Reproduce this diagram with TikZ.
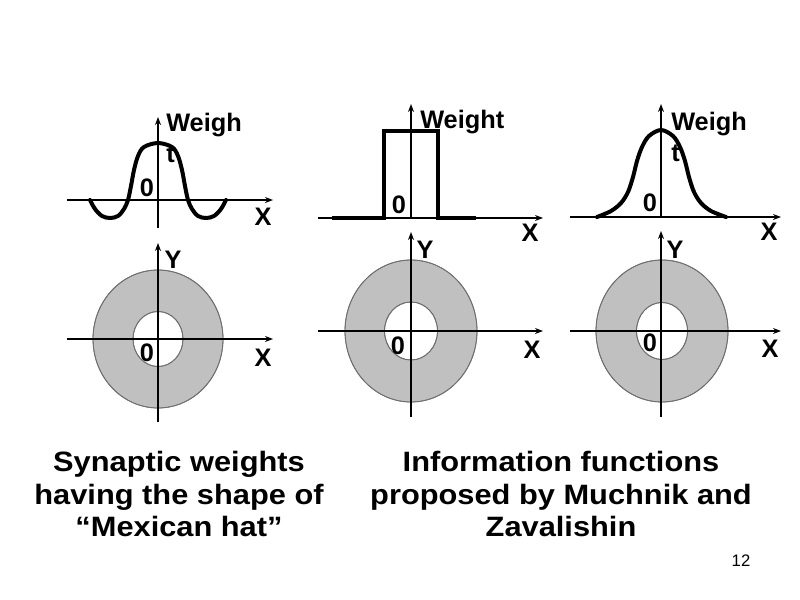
\documentclass[tikz,border=0pt]{standalone}
\usepackage{fontspec}
\setmainfont{Liberation Sans}
\usetikzlibrary{arrows.meta}
\definecolor{ringgray}{RGB}{192,192,192}
\definecolor{ringedge}{RGB}{110,110,110}
\begin{document}
\begin{tikzpicture}[x=0.75pt,y=-0.75pt,
  axis/.style={line width=1.6pt,-{Stealth[length=6pt,width=4.5pt]}},
  thinaxis/.style={line width=1pt,-{Stealth[length=6pt,width=4.5pt]}},
  curve/.style={line width=3pt,line join=round,line cap=round},
  ring/.style={fill=ringgray,draw=ringedge,line width=0.6pt,even odd rule},
  lbl/.style={font=\bfseries\fontsize{19}{23}\selectfont,inner sep=0pt},
  caption/.style={font=\bfseries\fontsize{21}{24.5}\selectfont,align=center,xscale=1.1,inner sep=0pt}]
\useasboundingbox[fill=white] (0,0) rectangle (800,600);

% ---------- Panel 1 top: Mexican hat ----------
\coordinate (p1xl) at (67,200);  \coordinate (p1xr) at (273,200);
\coordinate (p1yb) at (158,228); \coordinate (p1yt) at (158,117);
\draw[curve] plot[smooth,tension=0.55] coordinates {(90,200) (95,209) (102,216) (110,218) (118,216) (124,209) (128,200) (131,186) (134,170) (138,156) (144,147) (158,143) (172,147) (178,156) (182,170) (185,186) (188,200) (192,209) (198,216) (206,218) (214,216) (221,209) (226,200)};
\draw[axis] (p1xl) -- (p1xr);
\draw[axis] (p1yb) -- (p1yt);
\node[lbl,anchor=north west,align=left] (w1) at (166,113) {Weigh\\t};
\node[lbl] (z1) at (147,188) {0};
\node[lbl] (x1) at (263,217) {X};

% ---------- Panel 1 bottom ----------
\coordinate (c1) at (158,339);
\fill[ring] (c1) ellipse [x radius=65,y radius=69] (c1) ellipse [x radius=25,y radius=27.5];
\draw[ringedge,line width=0.6pt] (c1) ellipse [x radius=65,y radius=69];
\draw[ringedge,line width=0.6pt] (c1) ellipse [x radius=25,y radius=27.5];
\coordinate (q1xl) at (67,339);  \coordinate (q1xr) at (273,339);
\coordinate (q1yb) at (158,422); \coordinate (q1yt) at (158,243);
\draw[axis] (q1xl) -- (q1xr);
\draw[axis] (q1yb) -- (q1yt);
\node[lbl] (y1) at (173,260) {Y};
\node[lbl] (z1b) at (147,353) {0};
\node[lbl] (x1b) at (263,358) {X};

% ---------- Panel 2 top: rectangle ----------
\coordinate (p2xl) at (318,218); \coordinate (p2xr) at (543,218);
\coordinate (p2yb) at (411,218); \coordinate (p2yt) at (411,104);
\draw[thinaxis] (p2xl) -- (p2xr);
\draw[thinaxis] (p2yb) -- (p2yt);
\draw[curve,line cap=butt,line join=miter] (332,218) -- (384,218) -- (384,131) -- (438,131) -- (438,218) -- (476,218);
\node[lbl,anchor=base west] (w2) at (420,128) {Weight};
\node[lbl] (z2) at (399,205) {0};
\node[lbl] (x2) at (530,233) {X};

% ---------- Panel 2 bottom ----------
\coordinate (c2) at (411,331);
\fill[ring] (c2) ellipse [x radius=66,y radius=71] (c2) ellipse [x radius=26.5,y radius=29];
\draw[ringedge,line width=0.6pt] (c2) ellipse [x radius=66,y radius=71];
\draw[ringedge,line width=0.6pt] (c2) ellipse [x radius=26.5,y radius=29];
\coordinate (q2xl) at (318,331); \coordinate (q2xr) at (543,331);
\coordinate (q2yb) at (411,417); \coordinate (q2yt) at (411,232);
\draw[axis] (q2xl) -- (q2xr);
\draw[axis] (q2yb) -- (q2yt);
\node[lbl] (y2) at (425,250) {Y};
\node[lbl] (z2b) at (398,346) {0};
\node[lbl] (x2b) at (532,350) {X};

% ---------- Panel 3 top: bell ----------
\coordinate (p3xl) at (570,217); \coordinate (p3xr) at (781,217);
\coordinate (p3yb) at (661,217); \coordinate (p3yt) at (661,104);
\draw[curve] plot[smooth,tension=0.55] coordinates {(597,217) (611,211) (621,203) (628,192) (633,177) (637,161) (642,147) (649,136) (661,130) (673,136) (680,147) (685,161) (689,177) (694,192) (701,203) (711,211) (726,217)};
\draw[axis] (p3xl) -- (p3xr);
\draw[axis] (p3yb) -- (p3yt);
\node[lbl,anchor=north west,align=left] (w3) at (671,112) {Weigh\\t};
\node[lbl] (z3) at (650,203) {0};
\node[lbl] (x3) at (769,232) {X};

% ---------- Panel 3 bottom ----------
\coordinate (c3) at (662,331);
\fill[ring] (c3) ellipse [x radius=66,y radius=71] (c3) ellipse [x radius=25.5,y radius=28.5];
\draw[ringedge,line width=0.6pt] (c3) ellipse [x radius=66,y radius=71];
\draw[ringedge,line width=0.6pt] (c3) ellipse [x radius=25.5,y radius=28.5];
\coordinate (q3xl) at (570,331); \coordinate (q3xr) at (781,331);
\coordinate (q3yb) at (661,417); \coordinate (q3yt) at (661,231);
\draw[axis] (q3xl) -- (q3xr);
\draw[axis] (q3yb) -- (q3yt);
\node[lbl] (y3) at (675,250) {Y};
\node[lbl] (z3b) at (650,343) {0};
\node[lbl] (x3b) at (770,349) {X};

% ---------- Captions ----------
\node[caption] (cap1) at (179,494) {Synaptic weights\\having the shape of\\“Mexican hat”};
\node[caption] (cap2) at (561,494) {Information functions\\proposed by Muchnik and\\Zavalishin};
\node[font=\fontsize{12.5}{15}\selectfont,inner sep=0pt] (pg) at (741,561) {12};
\end{tikzpicture}
\end{document}
